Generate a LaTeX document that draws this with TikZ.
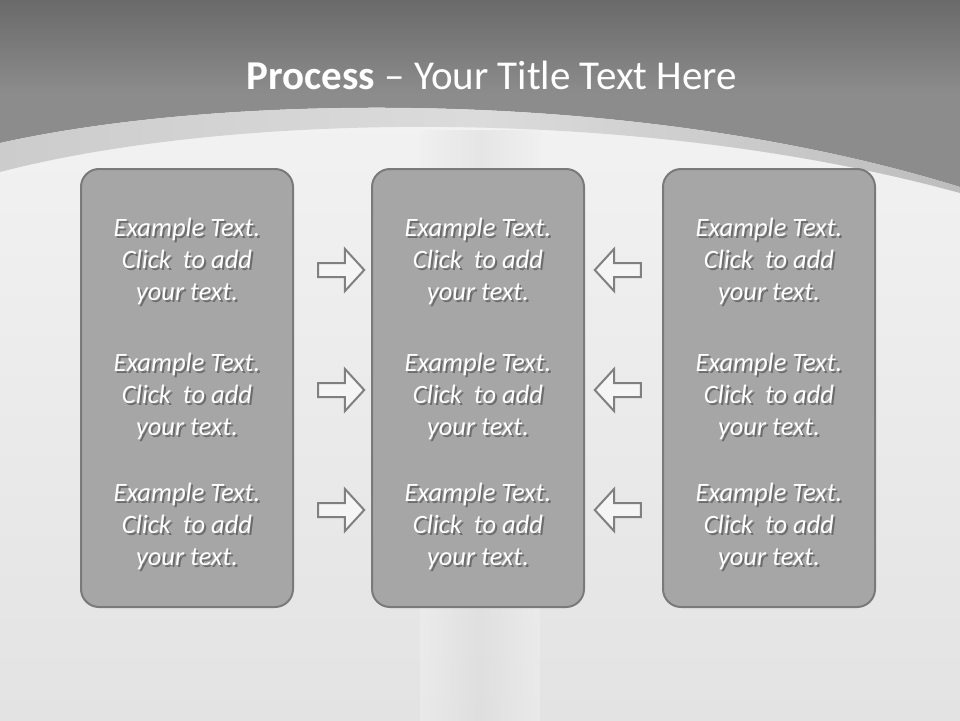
\documentclass[tikz,border=0pt]{standalone}
\usepackage{fontspec}
\setmainfont{Carlito}
\usetikzlibrary{shapes.arrows}
\definecolor{topgray}{HTML}{8C8C8C}
\definecolor{topdark}{HTML}{6A6A6A}
\definecolor{panelfill}{HTML}{A6A6A6}
\definecolor{panelline}{HTML}{7A7A7A}
\definecolor{arrowline}{HTML}{808080}
\newcommand\egtext{Example Text.\\Click~ to add\\your text.}
\begin{document}
\begin{tikzpicture}[x=1pt, y=-1pt,
    panel/.style={draw=panelline, line width=2pt, fill=panelfill, rounded corners=18pt,
      minimum width=212pt, minimum height=438pt, inner sep=0pt},
    blurb/.style={text=white, font=\fontsize{26.5}{32}\selectfont\itshape, align=center, inner sep=0pt},
    ghost/.style={blurb, text=black, opacity=0.35},
    blockarrow/.style={single arrow, draw=arrowline, line width=2pt, fill=white!96!black,
      minimum height=46pt, minimum width=40pt, inner sep=6pt, single arrow head extend=14pt,
      single arrow tip angle=95}]
    \useasboundingbox (0,0) rectangle (960,720);
    % background
    \shade[top color=white!96!black, bottom color=white!89!black] (0,0) rectangle (960,720);
    \shade[left color=white!94!black, right color=white!94!black, middle color=white!86!black,
        opacity=0.5] (420,130) rectangle (540,720);
    % title band
    \shade[top color=topdark, bottom color=topgray, middle color=topgray]
        (0,0) -- (0,143) .. controls (230,92) and (640,88) .. (960,187) -- (960,0) -- cycle;
    \shade[left color=white!80!black, right color=white!74!black, middle color=white!86!black]
        (0,143) .. controls (230,92) and (640,88) .. (960,187) -- (960,193)
        .. controls (640,105) and (230,112) .. (0,172) -- cycle;
    \node[text=white, font=\fontsize{41}{48}\selectfont] (title) at (492,75)
        {\textbf{Process} -- Your Title Text Here};
    % panels
    \node[panel] (left) at (187,388) {};
    \node[panel] (middle) at (478,388) {};
    \node[panel] (right) at (769,388) {};
    % texts
    \node[ghost] (l1s) at (189,263) {\egtext};
    \node[blurb] (l1) at (187,261) {\egtext};
    \node[ghost] (l2s) at (189,398) {\egtext};
    \node[blurb] (l2) at (187,396) {\egtext};
    \node[ghost] (l3s) at (189,528) {\egtext};
    \node[blurb] (l3) at (187,526) {\egtext};
    \node[ghost] (m1s) at (480,263) {\egtext};
    \node[blurb] (m1) at (478,261) {\egtext};
    \node[ghost] (m2s) at (480,398) {\egtext};
    \node[blurb] (m2) at (478,396) {\egtext};
    \node[ghost] (m3s) at (480,528) {\egtext};
    \node[blurb] (m3) at (478,526) {\egtext};
    \node[ghost] (r1s) at (771,263) {\egtext};
    \node[blurb] (r1) at (769,261) {\egtext};
    \node[ghost] (r2s) at (771,398) {\egtext};
    \node[blurb] (r2) at (769,396) {\egtext};
    \node[ghost] (r3s) at (771,528) {\egtext};
    \node[blurb] (r3) at (769,526) {\egtext};
    % arrows
    \node[blockarrow] (ra1) at (338,270) {};
    \node[blockarrow] (ra2) at (338,390) {};
    \node[blockarrow] (ra3) at (338,510) {};
    \node[blockarrow, shape border rotate=180] (la1) at (621,270) {};
    \node[blockarrow, shape border rotate=180] (la2) at (621,390) {};
    \node[blockarrow, shape border rotate=180] (la3) at (621,510) {};
\end{tikzpicture}
\end{document}
